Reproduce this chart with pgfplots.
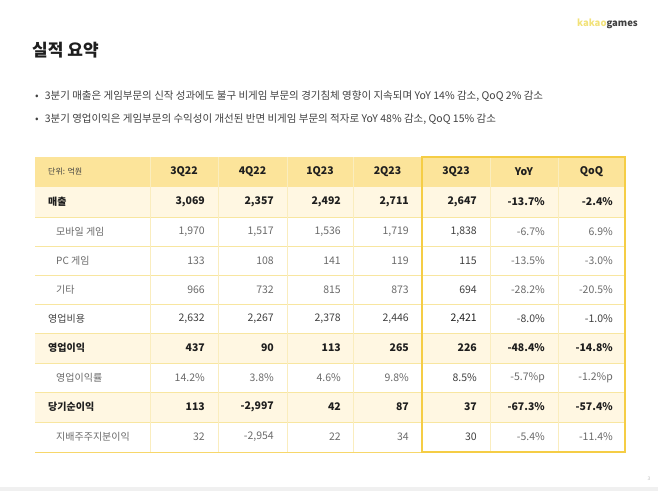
\documentclass[border=0pt]{standalone}
\usepackage{pgfplots}
\usepackage{pgfplotstable}
\pgfplotsset{compat=1.18}
\usepackage{fontspec}
\setmainfont{Noto Sans CJK KR}
\definecolor{hdr}{HTML}{FCE49A}
\definecolor{cream}{HTML}{FFF7E2}
\definecolor{bord}{HTML}{F5CD45}
\definecolor{vline}{HTML}{FAEDBE}
\definecolor{hline}{HTML}{F8E6A0}
\definecolor{txtgray}{HTML}{6A6A6A}
\definecolor{txtmid}{HTML}{404040}
\definecolor{txtdark}{HTML}{1E1E1E}
\definecolor{kakaoy}{HTML}{F2E27A}

% bold rows: 매출, 영업이익, 당기순이익
\pgfplotstableread{
y a b c d e f g
202 3,069 2,357 2,492 2,711 2,647 -13.7\% -2.4\%
348 437 90 113 265 226 -48.4\% -14.8\%
407 113 -2,997 42 87 37 -67.3\% -57.4\%
}\boldrows
% operating cost row
\pgfplotstableread{
y a b c d e f g
319 2,632 2,267 2,378 2,446 2,421 -8.0\% -1.0\%
}\midrows
% sub rows
\pgfplotstableread{
y a b c d e f g
232 1,970 1,517 1,536 1,719 1,838 -6.7\% 6.9\%
261 133 108 141 119 115 -13.5\% -3.0\%
290 966 732 815 873 694 -28.2\% -20.5\%
378 14.2\% 3.8\% 4.6\% 9.8\% 8.5\% -5.7\%p -1.2\%p
437 32 -2,954 22 34 30 -5.4\% -11.4\%
}\subrows

\newcommand{\valcol}[4]{%
  \addplot[draw=none, mark=none, nodes near coords, point meta=explicit symbolic,
    every node near coord/.append style={anchor=east, inner sep=0pt, #4}]
    table[x expr=#1, y=y, meta=#2]{#3};}

\begin{document}
\begin{tikzpicture}
\begin{axis}[width=658pt, height=491pt, scale only axis,
  xmin=0, xmax=658, ymin=0, ymax=491, y dir=reverse,
  axis lines=none, clip=false]
\path (axis cs:0,0) rectangle (axis cs:658,491);
% bottom band
\fill[black!6] (axis cs:0,487) rectangle (axis cs:658,491);
\node[text=black!25, font=\fontsize{5}{6}\selectfont] at (axis cs:649,479) {3};
% title & logo
\node[anchor=west, text=txtdark, font=\fontsize{17}{20}\selectfont\bfseries, inner sep=0pt] at (axis cs:32,50) {실적 요약};
\node[anchor=east, font=\fontsize{9.5}{11}\selectfont\bfseries, inner sep=0pt] at (axis cs:638,24) {\textcolor{kakaoy}{kakao}\textcolor{txtmid}{games}};
% bullets
\node[anchor=west, text=txtmid, font=\fontsize{10.5}{12}\selectfont, inner sep=0pt] at (axis cs:35,96) {•\hspace{6pt}3분기 매출은 게임부문의 신작 성과에도 불구 비게임 부문의 경기침체 영향이 지속되며 YoY 14\% 감소, QoQ 2\% 감소};
\node[anchor=west, text=txtmid, font=\fontsize{10.5}{12}\selectfont, inner sep=0pt] at (axis cs:35,119) {•\hspace{6pt}3분기 영업이익은 게임부문의 수익성이 개선된 반면 비게임 부문의 적자로 YoY 48\% 감소, QoQ 15\% 감소};
% table fills
\fill[hdr] (axis cs:35,157) rectangle (axis cs:625,187);
\fill[cream] (axis cs:35,187) rectangle (axis cs:625,217);
\fill[cream] (axis cs:35,333) rectangle (axis cs:625,363);
\fill[cream] (axis cs:35,392) rectangle (axis cs:625,422);
% horizontal lines
\pgfplotsinvokeforeach{217,246,275,304,333,363,392,422}{
  \draw[hline, line width=0.6pt] (axis cs:35,#1) -- (axis cs:625,#1);
}
\draw[bord!80, line width=1pt] (axis cs:35,452) -- (axis cs:625,452);
% vertical lines
\pgfplotsinvokeforeach{150,218,287,353,490,558}{
  \draw[vline, line width=0.7pt] (axis cs:#1,157) -- (axis cs:#1,452);
}
% highlight box
\draw[bord, line width=1.7pt] (axis cs:422,157) rectangle (axis cs:625,452);
% header
\node[anchor=west, text=txtmid, font=\fontsize{8}{9}\selectfont, inner sep=0pt] at (axis cs:48,172) {단위: 억원};
\node[text=txtdark, font=\fontsize{10.5}{12}\selectfont\bfseries, inner sep=0pt] at (axis cs:184,172) {3Q22};
\node[text=txtdark, font=\fontsize{10.5}{12}\selectfont\bfseries, inner sep=0pt] at (axis cs:252.5,172) {4Q22};
\node[text=txtdark, font=\fontsize{10.5}{12}\selectfont\bfseries, inner sep=0pt] at (axis cs:320,172) {1Q23};
\node[text=txtdark, font=\fontsize{10.5}{12}\selectfont\bfseries, inner sep=0pt] at (axis cs:387.5,172) {2Q23};
\node[text=txtdark, font=\fontsize{10.5}{12}\selectfont\bfseries, inner sep=0pt] at (axis cs:456,172) {3Q23};
\node[text=txtdark, font=\fontsize{10.5}{12}\selectfont\bfseries, inner sep=0pt] at (axis cs:524,172) {YoY};
\node[text=txtdark, font=\fontsize{10.5}{12}\selectfont\bfseries, inner sep=0pt] at (axis cs:591.5,172) {QoQ};
% row labels
\node[anchor=west, text=txtdark, font=\fontsize{10}{12}\selectfont\bfseries, inner sep=0pt] at (axis cs:48,202) {매출};
\node[anchor=west, text=txtdark, font=\fontsize{10}{12}\selectfont\bfseries, inner sep=0pt] at (axis cs:48,348) {영업이익};
\node[anchor=west, text=txtdark, font=\fontsize{10}{12}\selectfont\bfseries, inner sep=0pt] at (axis cs:48,407) {당기순이익};
\node[anchor=west, text=txtmid, font=\fontsize{10}{12}\selectfont, inner sep=0pt] at (axis cs:48,319) {영업비용};
\node[anchor=west, text=txtgray, font=\fontsize{10}{12}\selectfont, inner sep=0pt] at (axis cs:56,232) {모바일 게임};
\node[anchor=west, text=txtgray, font=\fontsize{10}{12}\selectfont, inner sep=0pt] at (axis cs:56,261) {PC 게임};
\node[anchor=west, text=txtgray, font=\fontsize{10}{12}\selectfont, inner sep=0pt] at (axis cs:56,290) {기타};
\node[anchor=west, text=txtgray, font=\fontsize{10}{12}\selectfont, inner sep=0pt] at (axis cs:56,378) {영업이익률};
\node[anchor=west, text=txtgray, font=\fontsize{10}{12}\selectfont, inner sep=0pt] at (axis cs:56,437) {지배주주지분이익};
% values
\valcol{205}{a}{\boldrows}{text=txtdark, font=\fontsize{10.5}{12}\selectfont\bfseries}
\valcol{274}{b}{\boldrows}{text=txtdark, font=\fontsize{10.5}{12}\selectfont\bfseries}
\valcol{341}{c}{\boldrows}{text=txtdark, font=\fontsize{10.5}{12}\selectfont\bfseries}
\valcol{409}{d}{\boldrows}{text=txtdark, font=\fontsize{10.5}{12}\selectfont\bfseries}
\valcol{477}{e}{\boldrows}{text=txtdark, font=\fontsize{10.5}{12}\selectfont\bfseries}
\valcol{545}{f}{\boldrows}{text=txtdark, font=\fontsize{10.5}{12}\selectfont\bfseries}
\valcol{613}{g}{\boldrows}{text=txtdark, font=\fontsize{10.5}{12}\selectfont\bfseries}
\valcol{205}{a}{\midrows}{text=txtmid, font=\fontsize{10.5}{12}\selectfont}
\valcol{274}{b}{\midrows}{text=txtmid, font=\fontsize{10.5}{12}\selectfont}
\valcol{341}{c}{\midrows}{text=txtmid, font=\fontsize{10.5}{12}\selectfont}
\valcol{409}{d}{\midrows}{text=txtmid, font=\fontsize{10.5}{12}\selectfont}
\valcol{477}{e}{\midrows}{text=txtdark, font=\fontsize{10.5}{12}\selectfont}
\valcol{545}{f}{\midrows}{text=txtmid, font=\fontsize{10.5}{12}\selectfont}
\valcol{613}{g}{\midrows}{text=txtmid, font=\fontsize{10.5}{12}\selectfont}
\valcol{205}{a}{\subrows}{text=txtgray, font=\fontsize{10.5}{12}\selectfont}
\valcol{274}{b}{\subrows}{text=txtgray, font=\fontsize{10.5}{12}\selectfont}
\valcol{341}{c}{\subrows}{text=txtgray, font=\fontsize{10.5}{12}\selectfont}
\valcol{409}{d}{\subrows}{text=txtgray, font=\fontsize{10.5}{12}\selectfont}
\valcol{477}{e}{\subrows}{text=txtmid, font=\fontsize{10.5}{12}\selectfont}
\valcol{545}{f}{\subrows}{text=txtgray, font=\fontsize{10.5}{12}\selectfont}
\valcol{613}{g}{\subrows}{text=txtgray, font=\fontsize{10.5}{12}\selectfont}
\end{axis}
\end{tikzpicture}
\end{document}
